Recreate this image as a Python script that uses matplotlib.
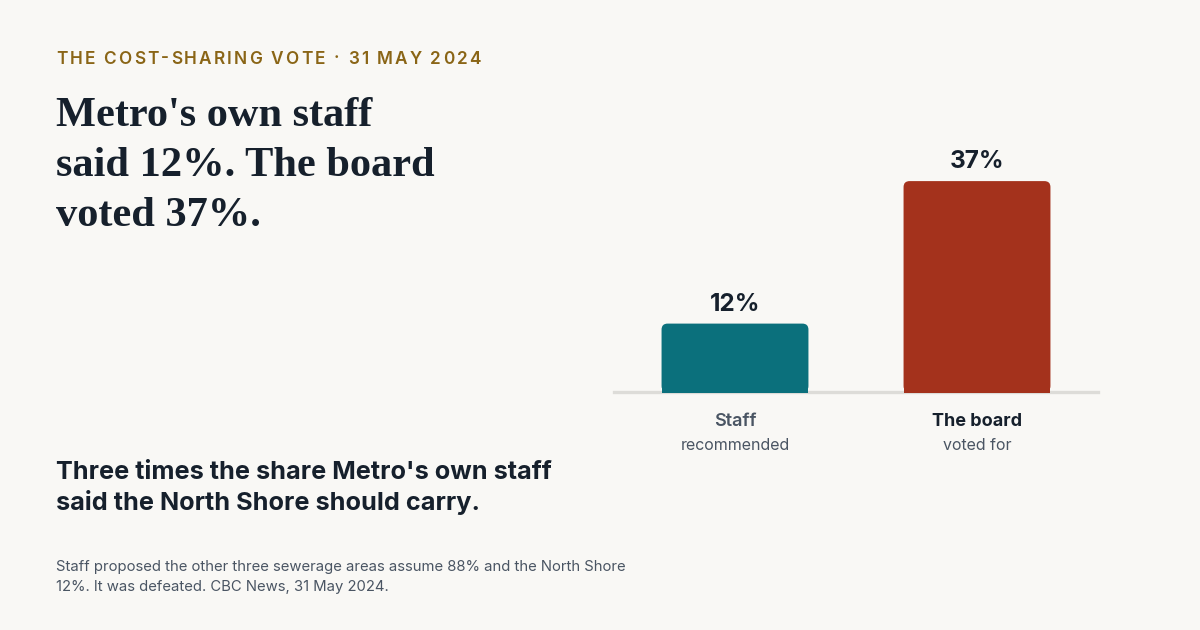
import matplotlib
matplotlib.use("Agg")
import matplotlib.pyplot as plt
from matplotlib.patches import FancyBboxPatch, Rectangle

# data
categories = ["Staff", "The board"]
sublabels = ["recommended", "voted for"]
shares = [12, 37]
value_labels = ["12%", "37%"]

W, H = 1200, 630
bg = "#f9f8f5"
ink = "#16202c"
grey = "#4a5563"
gold = "#8a6516"
bar_colors = ["#0b707c", "#a4321c"]

fig = plt.figure(figsize=(12, 6.3), dpi=100, facecolor=bg)


def px(x, y):
    return x / W, 1 - y / H


def spaced(x, y, s, spacing, **kw):
    # crude letter spacing: place each char after the measured prefix
    r = fig.canvas.get_renderer()
    probe = fig.text(0, 0, "", **kw)
    for i, ch in enumerate(s):
        probe.set_text(s[:i] if i else "")
        w = probe.get_window_extent(r).width if i else 0
        fig.text((x + w + i * spacing) / W, 1 - y / H, ch, **kw)
    probe.remove()


# header
spaced(56, 59, "THE COST-SHARING VOTE · 31 MAY 2024", 2.15,
       family="Inter", weight="semibold", fontsize=12.4, color=gold, va="center")

# title
fig.text(*px(56, 97), "Metro's own staff\nsaid 12%. The board\nvoted 37%.",
         family="Liberation Serif", weight="bold", fontsize=30.5, color=ink,
         va="top", linespacing=1.42)

# takeaway
fig.text(*px(56, 488), "Three times the share Metro's own staff\nsaid the North Shore should carry.",
         family="Inter", weight="bold", fontsize=18.2, color=ink,
         va="center", linespacing=1.3)

# footnote
fig.text(*px(56, 577), "Staff proposed the other three sewerage areas assume 88% and the North Shore\n"
         "12%. It was defeated. CBC News, 31 May 2024.",
         family="Inter", fontsize=10.7, color=grey, va="center", linespacing=1.5)

# bars: axes spans 614..1098 px wide, baseline at 392 px, 0..40 %
ax_left, ax_right, base, top = 614, 1098, 392, 164
ax = fig.add_axes([ax_left / W, 1 - base / H, (ax_right - ax_left) / W, (base - top) / H])
ax.set_facecolor("none")
ax.set_xlim(-0.5, 1.5)
ax.set_ylim(0, 40)
ax.axis("off")

bw = 0.607
xunit = (ax_right - ax_left) / 2.0
yunit = (base - top) / 40.0
rad_px = 6
for i, (v, c) in enumerate(zip(shares, bar_colors)):
    x0 = i - bw / 2
    ax.add_patch(FancyBboxPatch((x0, 0), bw, v,
                                boxstyle="round,pad=0,rounding_size=%f" % (rad_px / xunit),
                                mutation_aspect=xunit / yunit,
                                fc=c, ec="none", zorder=2, clip_on=False))
    ax.add_patch(Rectangle((x0, -0.2), bw, v / 2, fc=c, ec="none", zorder=2, clip_on=False))
    ax.text(i, v + 13 / yunit, value_labels[i], ha="center", va="baseline",
            family="Inter", weight="bold", fontsize=17.5, color=ink)

ax.axhline(0, color="#dddcd8", lw=2.4, zorder=1, clip_on=False)

for i, (cat, sub) in enumerate(zip(categories, sublabels)):
    cx = (ax_left + xunit * (i + 0.5))
    fig.text(*px(cx, 421), cat, ha="center", va="center", family="Inter",
             weight="semibold" if i == 0 else "bold", fontsize=13,
             color=grey if i == 0 else ink)
    fig.text(*px(cx, 445), sub, ha="center", va="center", family="Inter",
             fontsize=11.5, color=grey)

fig.savefig("out.png", dpi=100, facecolor=bg)
